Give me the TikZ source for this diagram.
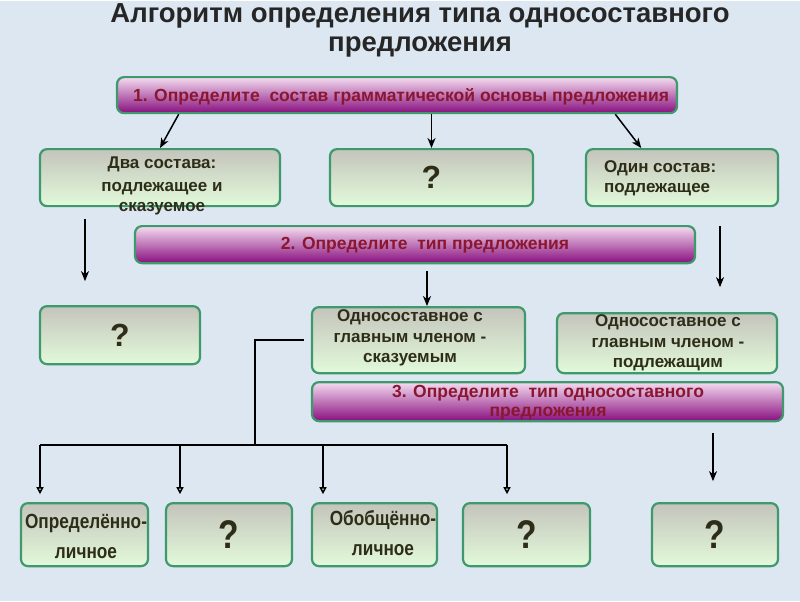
\documentclass[tikz,border=0pt]{standalone}
\usepackage{fontspec}
\setmainfont{Liberation Sans}
\newfontfamily\narrowsf[FakeStretch=0.84]{Liberation Sans}
\usetikzlibrary{arrows.meta}
\usepackage{xcolor}
\definecolor{skyback}{HTML}{DCE7F1}
\definecolor{boxline}{HTML}{3E9A6C}
\definecolor{boxtop}{HTML}{C4C4BC}
\definecolor{boxbot}{HTML}{E2FADA}
\definecolor{steptop}{HTML}{F4DCF0}
\definecolor{stepbot}{HTML}{880E7E}
\definecolor{steptext}{HTML}{8A1630}
\definecolor{boxtext}{HTML}{2E2E18}

\begin{document}
\begin{tikzpicture}[x=1pt, y=-1pt,
  box/.style={draw=boxline, line width=2.2pt, rounded corners=7pt, top color=boxtop, bottom color=boxbot, inner sep=0pt},
  stepbox/.style={box, top color=steptop, bottom color=stepbot},
  boxtxt/.style={text=boxtext, font=\bfseries\fontsize{17}{20.5}\selectfont, align=center, inner sep=0pt},
  steptxt/.style={text=steptext, font=\bfseries\fontsize{17.5}{19.5}\selectfont, align=center, inner sep=0pt},
  lowtxt/.style={text=boxtext, font=\narrowsf\bfseries\fontsize{20.5}{30}\selectfont, align=center, inner sep=0pt},
  ask/.style={text=boxtext, font=\bfseries\fontsize{32}{32}\selectfont},
  lowask/.style={text=boxtext, font=\narrowsf\bfseries\fontsize{40}{40}\selectfont},
  arr/.style={-{Stealth[length=10pt,width=8pt,inset=3pt]}, line width=1.5pt},
  tri/.style={-{Triangle[open,length=7pt,width=7pt]}, line width=1.5pt}]
\fill[skyback] (0,0) rectangle (800,600); % background
% title
\node[font=\bfseries\fontsize{27.5}{29}\selectfont, text=black!85, align=center] (title) at (420,29) {Алгоритм определения типа односоставного\\ предложения};
% step 1
\node[stepbox, minimum width=560pt, minimum height=36pt] (step1) at (397,94) {};
\node[steptxt] (step1t) at (401,96) {1. Определите\ \ состав грамматической основы предложения};
% first row
\node[box, minimum width=240pt, minimum height=57pt] (twoP) at (160,176.5) {};
\node[boxtxt] (twoT) at (162,185) {Два состава:\\[2pt] подлежащее и\\ сказуемое};
\node[box, minimum width=203pt, minimum height=57pt] (qB) at (431.5,176.5) {};
\node[ask] (qBt) at (qB) {?};
\node[box, minimum width=192pt, minimum height=57pt] (oneP) at (682,176.5) {};
\node[boxtxt, anchor=west, align=left] (oneT) at (604,177) {Один состав:\\ подлежащее};
\draw[arr] (step1.185) -- (twoP.north);
\draw[arr] (step1.south -| qBt) -- (qB.north);
\draw[arr] (step1.355) -- (oneP.144);
% step 2
\node[stepbox, minimum width=560pt, minimum height=37pt] (step2) at (415,243.5) {};
\node[steptxt] (step2t) at (425,244) {2. Определите\ \ тип предложения};
\coordinate (l1) at (85,218); \coordinate (l2) at (85,280);
\coordinate (r1) at (720,225); \coordinate (r2) at (720,286);
\draw[arr] (l1) -- (l2);
\draw[arr] (r1) -- (r2);
% second row
\node[box, minimum width=160pt, minimum height=58pt] (qD) at (120,334) {};
\node[ask] (qDt) at (qD) {?};
\node[box, minimum width=213pt, minimum height=66pt] (predE) at (418.5,339) {};
\node[boxtxt] (predT) at (410,337) {Односоставное с\\ главным членом -\\ сказуемым};
\node[box, minimum width=220pt, minimum height=60pt] (subjF) at (667,342) {};
\node[boxtxt] (subjT) at (668,342) {Односоставное с\\ главным членом -\\ подлежащим};
\coordinate (m1) at (427,270);
\draw[arr] (m1) -- (predE.north -| m1);
% step 3
\node[stepbox, minimum width=471pt, minimum height=39pt] (step3) at (547.5,400.5) {};
\node[steptxt] (step3t) at (548,401.5) {3. Определите\ \ тип односоставного\\ предложения};
\coordinate (k1) at (713,432); \coordinate (k2) at (713,480);
\draw[arr] (k1) -- (k2);
% third row
\node[box, minimum width=127pt, minimum height=63pt] (defP) at (84.5,533.5) {};
\node[lowtxt] (defT) at (86,535) {Определённо-\\ личное};
\node[box, minimum width=126pt, minimum height=63pt] (qH) at (229,533.5) {};
\node[lowask] (qHt) at (qH) {?};
\node[box, minimum width=125pt, minimum height=63pt] (genP) at (374.5,533.5) {};
\node[lowtxt] (genT) at (383,532) {Обобщённо-\\ личное};
\node[box, minimum width=127pt, minimum height=63pt] (qJ) at (526.5,533.5) {};
\node[lowask] (qJt) at (qJ) {?};
\node[box, minimum width=126pt, minimum height=63pt] (qK) at (715,533.5) {};
\node[lowask] (qKt) at (qK) {?};
% fork
\coordinate (fork) at (255,444);
\draw[line width=1.5pt, shorten <=7pt] (predE.west) -| (fork);
\draw[line width=1.5pt] (40,444) -- (507,444);
\foreach \x/\n in {40/a,180/b,323/c,507/d} {
  \coordinate (t\n) at (\x,444);
  \draw[tri] (t\n) -- ++(0,49);
}
\end{tikzpicture}
\end{document}
